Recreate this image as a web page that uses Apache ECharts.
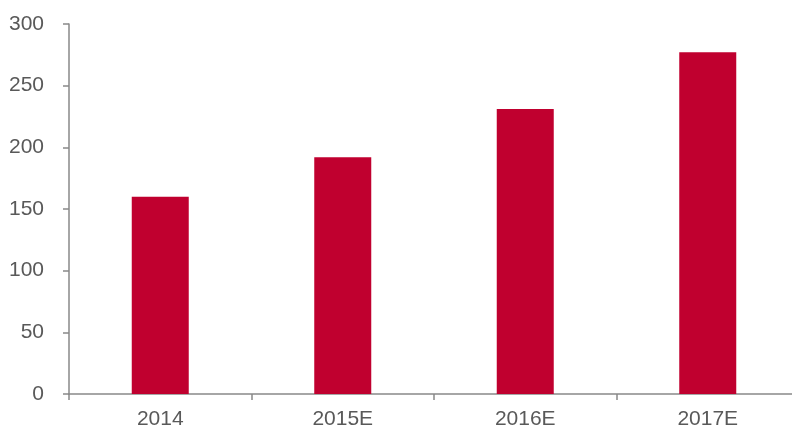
<!DOCTYPE html>
<html>
<head>
<meta charset="utf-8">
<script src="https://cdn.jsdelivr.net/npm/echarts@6/dist/echarts.min.js"></script>
<style>
  html, body { margin: 0; padding: 0; background: #fff; }
  #chart { width: 792px; height: 428px; }
</style>
</head>
<body>
<div id="chart"></div>
<script>
// Yearly values, actual and estimated
const categories = ['2014', '2015E', '2016E', '2017E'];
const values = [160, 192, 231, 277];
const yTicks = { min: 0, max: 300, interval: 50 };

const axisGrey = '#898989';
const labelGrey = '#595959';
const barRed = '#C0002F';
const font = 'Liberation Sans, Arial, sans-serif';

const chart = echarts.init(document.getElementById('chart'), null, { renderer: 'canvas' });
chart.setOption({
  animation: false,
  grid: { left: 69, top: 24, bottom: 34, right: -7, containLabel: false, outerBoundsMode: 'none' },
  xAxis: {
    type: 'category',
    data: categories,
    boundaryGap: true,
    axisLine: { lineStyle: { color: axisGrey, width: 1.5 } },
    axisTick: { show: true, length: 6, lineStyle: { color: axisGrey, width: 1.5 } },
    axisLabel: { color: labelGrey, fontSize: 21, fontFamily: font, margin: 15 }
  },
  yAxis: {
    type: 'value',
    min: yTicks.min,
    max: yTicks.max,
    interval: yTicks.interval,
    splitLine: { show: false },
    axisLine: { show: true, lineStyle: { color: axisGrey, width: 1.5 } },
    axisTick: { show: true, length: 6, lineStyle: { color: axisGrey, width: 1.5 } },
    axisLabel: { color: labelGrey, fontSize: 21, fontFamily: font, margin: 25 }
  },
  series: [{
    type: 'bar',
    data: values,
    barWidth: 57,
    itemStyle: { color: barRed }
  }]
});
</script>
</body>
</html>
